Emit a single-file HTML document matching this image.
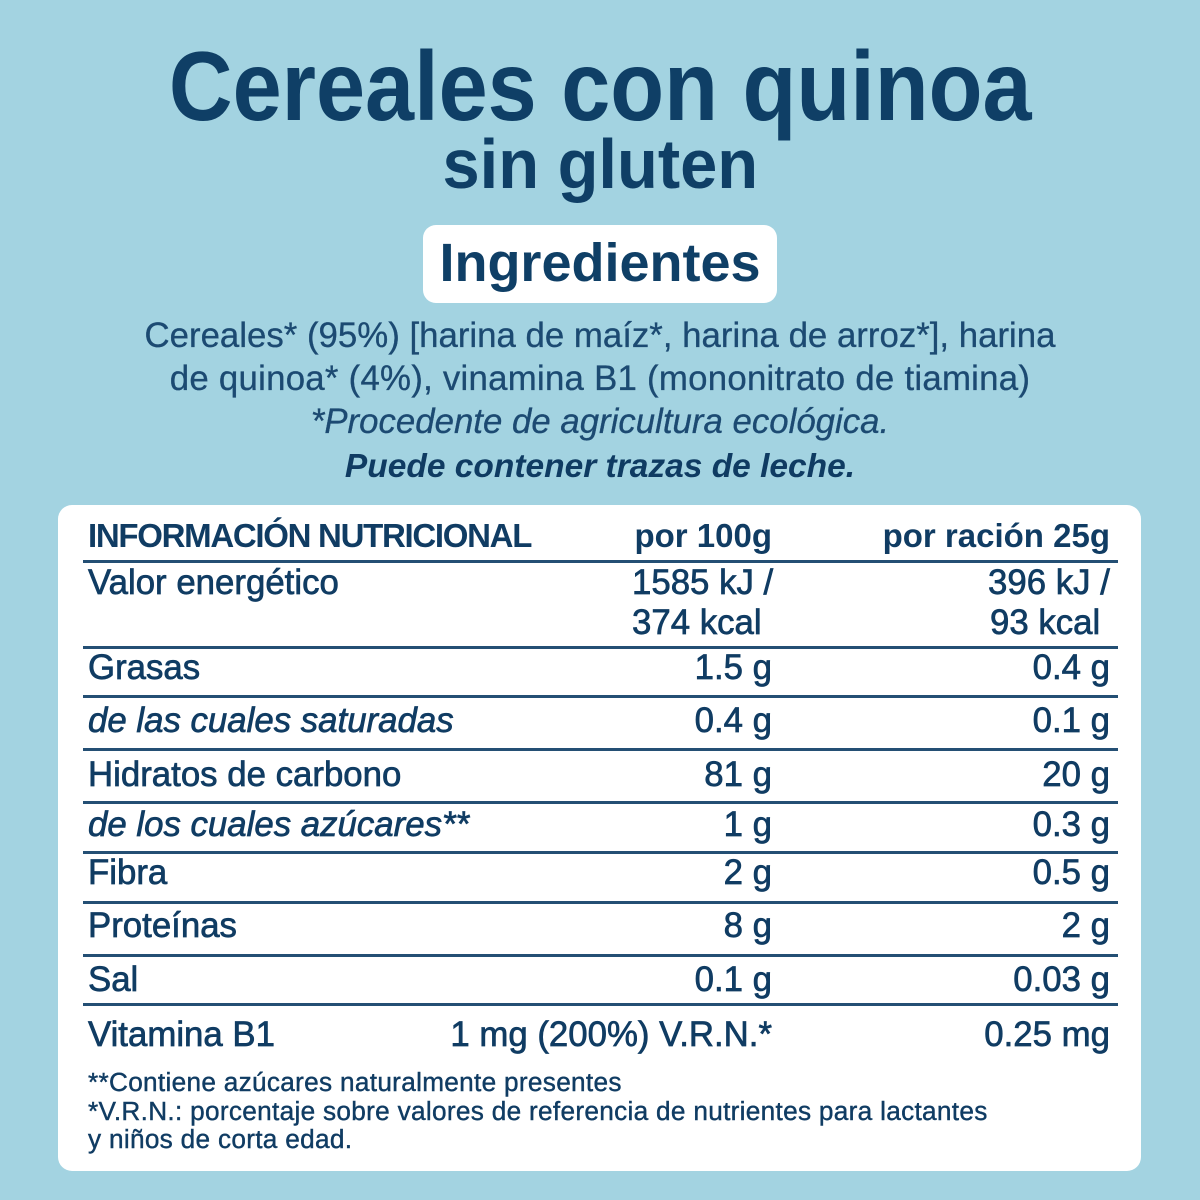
<!DOCTYPE html>
<html><head><meta charset="utf-8">
<style>
html,body{margin:0;padding:0;}
body{width:1200px;height:1200px;background:#a3d3e1;position:relative;overflow:hidden;font-family:"Liberation Sans",sans-serif;color:#103c63;}
.a{position:absolute;white-space:nowrap;}
.c{left:0;width:1200px;text-align:center;}
.t{font-size:34.8px;line-height:34px;-webkit-text-stroke:0.7px #103c63;}
.hl{position:absolute;left:83px;width:1035px;height:3px;background:#244f74;}
.r1{right:428px;text-align:right;}
.r2{right:90px;text-align:right;}
.f{font-size:26.2px;line-height:26px;letter-spacing:0.3px;left:88px;-webkit-text-stroke:0.4px #103c63;}
.ing{font-size:34.8px;line-height:34px;color:#1c4a72;-webkit-text-stroke:0.3px #1c4a72;}
</style></head><body>

<div class="a c" style="top:37px;font-size:98px;line-height:98px;font-weight:bold;color:#0f3f66;"><span style="display:inline-block;transform:scaleX(0.9);">Cereales con quinoa</span></div>
<div class="a c" style="top:129px;font-size:70px;line-height:70px;font-weight:bold;color:#0f3f66;"><span style="display:inline-block;transform:scaleX(0.955);">sin gluten</span></div>

<div class="a" style="left:423px;top:225px;width:354px;height:78px;background:#fff;border-radius:13px;"></div>
<div class="a c" style="top:236px;font-size:54px;line-height:54px;font-weight:bold;color:#0f3f66;">Ingredientes</div>

<div class="a c ing" style="top:319px;">Cereales* (95%) [harina de maíz*, harina de arroz*], harina</div>
<div class="a c ing" style="top:362px;letter-spacing:0.25px;">de quinoa* (4%), vinamina B1 (mononitrato de tiamina)</div>
<div class="a c ing" style="top:405px;font-style:italic;">*Procedente de agricultura ecológica.</div>
<div class="a c" style="top:450px;font-size:33.5px;line-height:33px;font-style:italic;font-weight:bold;color:#0f3b62;">Puede contener trazas de leche.</div>

<div class="a" style="left:58px;top:505px;width:1083px;height:666px;background:#fff;border-radius:14px;"></div>

<div class="a" style="left:88px;top:519px;font-size:33px;line-height:33px;font-weight:bold;letter-spacing:-1.3px;">INFORMACIÓN NUTRICIONAL</div>
<div class="a r1" style="top:519px;font-size:33px;line-height:33px;font-weight:bold;">por 100g</div>
<div class="a r2" style="top:519px;font-size:33px;line-height:33px;font-weight:bold;">por ración 25g</div>
<div class="hl" style="top:560px;"></div>

<div class="a t" style="left:88px;top:566px;">Valor energético</div>
<div class="a t" style="left:632px;top:566px;">1585 kJ /</div>
<div class="a t" style="left:632px;top:606px;">374 kcal</div>
<div class="a t" style="left:988px;top:566px;">396 kJ /</div>
<div class="a t" style="left:990px;top:606px;">93 kcal</div>
<div class="hl" style="top:646px;"></div>

<div class="a t" style="left:88px;top:651px;">Grasas</div>
<div class="a t r1" style="top:651px;">1.5 g</div>
<div class="a t r2" style="top:651px;">0.4 g</div>
<div class="hl" style="top:695px;"></div>

<div class="a t" style="left:88px;top:704px;font-style:italic;">de las cuales saturadas</div>
<div class="a t r1" style="top:704px;">0.4 g</div>
<div class="a t r2" style="top:704px;">0.1 g</div>
<div class="hl" style="top:748px;"></div>

<div class="a t" style="left:88px;top:758px;">Hidratos de carbono</div>
<div class="a t r1" style="top:758px;">81 g</div>
<div class="a t r2" style="top:758px;">20 g</div>
<div class="hl" style="top:801px;"></div>

<div class="a t" style="left:88px;top:808px;font-style:italic;">de los cuales azúcares**</div>
<div class="a t r1" style="top:808px;">1 g</div>
<div class="a t r2" style="top:808px;">0.3 g</div>
<div class="hl" style="top:851px;"></div>

<div class="a t" style="left:88px;top:856px;">Fibra</div>
<div class="a t r1" style="top:856px;">2 g</div>
<div class="a t r2" style="top:856px;">0.5 g</div>
<div class="hl" style="top:901px;"></div>

<div class="a t" style="left:88px;top:909px;">Proteínas</div>
<div class="a t r1" style="top:909px;">8 g</div>
<div class="a t r2" style="top:909px;">2 g</div>
<div class="hl" style="top:954px;"></div>

<div class="a t" style="left:88px;top:963px;">Sal</div>
<div class="a t r1" style="top:963px;">0.1 g</div>
<div class="a t r2" style="top:963px;">0.03 g</div>
<div class="hl" style="top:1003px;"></div>

<div class="a t" style="left:88px;top:1018px;">Vitamina B1</div>
<div class="a t r1" style="top:1018px;">1 mg (200%) V.R.N.*</div>
<div class="a t r2" style="top:1018px;">0.25 mg</div>

<div class="a f" style="top:1069px;">**Contiene azúcares naturalmente presentes</div>
<div class="a f" style="top:1098px;">*V.R.N.: porcentaje sobre valores de referencia de nutrientes para lactantes</div>
<div class="a f" style="top:1126px;">y niños de corta edad.</div>

</body></html>
